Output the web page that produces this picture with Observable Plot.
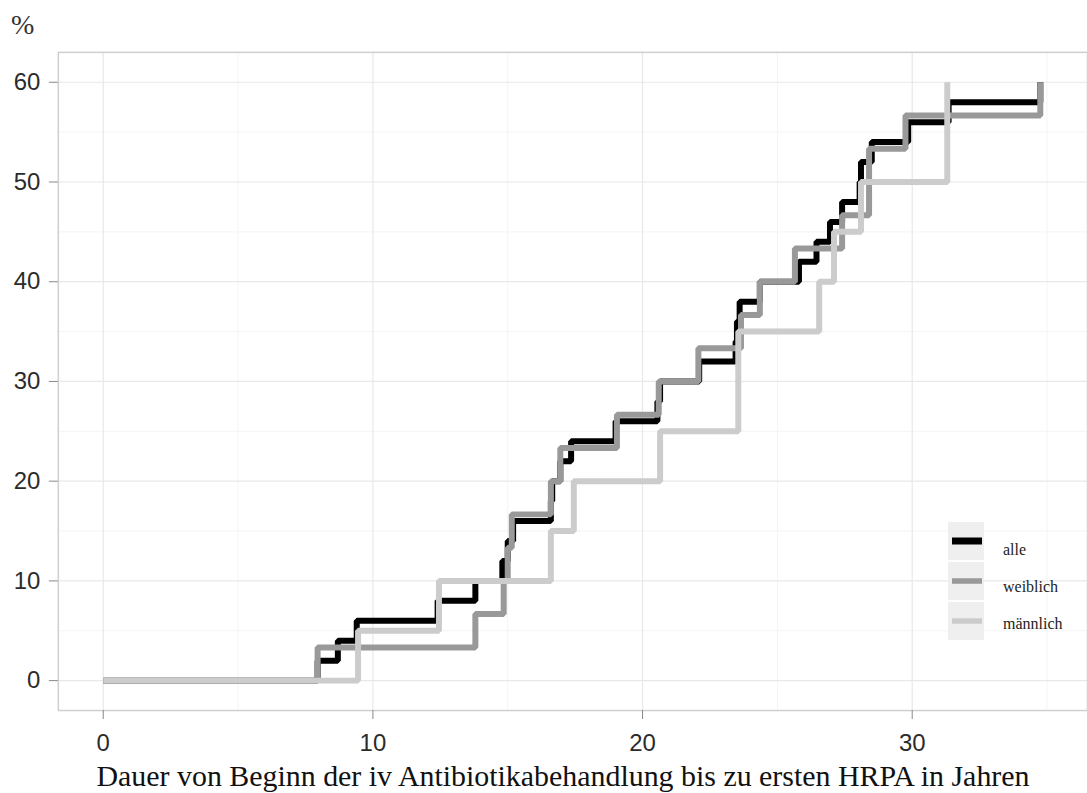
<!DOCTYPE html>
<html>
<head>
<meta charset="utf-8">
<script src="https://cdn.jsdelivr.net/npm/d3@7"></script>
<script src="https://cdn.jsdelivr.net/npm/@observablehq/plot@0.6"></script>
<style>
  html, body { margin: 0; padding: 0; background: #fff; overflow: hidden; }
  #wrap { position: relative; width: 1087px; height: 793px; overflow: hidden; }
  #wrap > svg { position: absolute; left: 0; top: 0; }
</style>
</head>
<body>
<div id="wrap"></div>
<script>
// Cumulative share (%) of patients with a first HRPA, by years since start of iv antibiotics
const seriesNames  = ["alle", "weiblich", "männlich"];
const seriesColors = ["#000000", "#999999", "#cccccc"];

const alleYears = [0, 7.95, 8.7, 9.4, 12.4, 13.8, 14.8, 15.0, 15.2, 16.6, 16.65, 16.95, 17.35, 19.0, 20.55, 20.65, 22.1, 23.45, 23.5, 23.6, 24.35, 25.8, 26.45, 26.95, 27.4, 28.05, 28.1, 28.5, 29.85, 31.35, 34.75];
const allePct   = [0, 2, 4, 6, 8, 10, 12, 14, 16, 18, 20, 22, 24, 26, 28, 30, 32, 34, 36, 38, 40, 42, 44, 46, 48, 50, 52, 54, 56, 58, 60];

const weiblichYears = [0, 7.95, 13.8, 14.85, 15.0, 15.15, 16.6, 16.95, 19.05, 20.6, 22.07, 23.65, 24.35, 25.65, 27.4, 28.4, 29.75, 34.75];
const weiblichPct   = [0, 3.33, 6.67, 10, 13.33, 16.67, 20, 23.33, 26.67, 30, 33.33, 36.67, 40, 43.33, 46.67, 53.33, 56.67, 60];

const maennlichYears = [0, 9.45, 12.45, 16.6, 17.45, 20.65, 23.55, 26.55, 27.1, 28.1, 31.3];
const maennlichPct   = [0, 5, 10, 15, 20, 25, 35, 40, 45, 50, 60];

const xTicks = [0, 10, 20, 30];
const xMinor = [5, 15, 25, 35];
const yTicks = [0, 10, 20, 30, 40, 50, 60];
const yMinor = [5, 15, 25, 35, 45, 55];

const xTitle = "Dauer von Beginn der iv Antibiotikabehandlung bis zu ersten HRPA in Jahren";
const yTitle = "%";

// long table: one row per step point
const seriesYears = [alleYears, weiblichYears, maennlichYears];
const seriesPct   = [allePct, weiblichPct, maennlichPct];
const rows = seriesNames.flatMap((name, i) =>
  seriesYears[i].map((t, j) => ({group: name, years: t, pct: seriesPct[i][j]}))
);

const W = 1090, H = 793;
const chart = Plot.plot({
  width: W,
  height: H,
  marginLeft: 58,
  marginRight: 0,
  marginTop: 52,
  marginBottom: 81,
  style: {background: "#ffffff", overflow: "visible"},
  x: {domain: [-1.665, 36.5]},
  y: {domain: [-3, 63]},
  color: {domain: seriesNames, range: seriesColors},
  marks: [
    Plot.gridX(xMinor, {stroke: "#f4f4f4", strokeOpacity: 1, strokeWidth: 1}),
    Plot.gridY(yMinor, {stroke: "#f4f4f4", strokeOpacity: 1, strokeWidth: 1}),
    Plot.gridX(xTicks, {stroke: "#e8e8e8", strokeOpacity: 1, strokeWidth: 1.2}),
    Plot.gridY(yTicks, {stroke: "#e8e8e8", strokeOpacity: 1, strokeWidth: 1.2}),
    Plot.line(rows, {
      x: "years", y: "pct", z: "group", stroke: "group",
      curve: "step-after", strokeWidth: 6,
      strokeLinejoin: "miter", strokeLinecap: "butt"
    }),
    Plot.frame({stroke: "#cfcfcf", strokeWidth: 1.5}),
    Plot.axisX(xTicks, {
      tickSize: 9, tickPadding: 15, fontSize: 24,
      stroke: "#888", fill: "#2b2b2b", label: null,
      fontFamily: "Liberation Sans, Arial, sans-serif"
    }),
    Plot.axisY(yTicks, {
      tickSize: 9, tickPadding: 9, fontSize: 24,
      stroke: "#888", fill: "#2b2b2b", label: null,
      fontFamily: "Liberation Sans, Arial, sans-serif"
    })
  ]
});
const wrap = document.getElementById("wrap");
wrap.appendChild(chart);

// titles and legend on an overlay layer
const ov = d3.select(wrap).append("svg")
  .attr("width", 1087).attr("height", 793)
  .style("font-family", "'Liberation Serif', 'Times New Roman', serif");

ov.append("text")
  .attr("x", 563).attr("y", 786)
  .attr("text-anchor", "middle")
  .attr("font-size", 29)
  .attr("fill", "#111")
  .attr("textLength", 933).attr("lengthAdjust", "spacingAndGlyphs")
  .text(xTitle);

ov.append("text")
  .attr("x", 11).attr("y", 34)
  .attr("font-size", 28)
  .attr("fill", "#333")
  .text(yTitle);

// legend
const lg = ov.append("g").attr("transform", "translate(948,522)");
const keyW = 36, keyH = 38, keyGap = 2;
const keyStroke = [7, 5.5, 5.5];
seriesNames.forEach((name, i) => {
  const y0 = i * (keyH + keyGap);
  lg.append("rect").attr("x", 0).attr("y", y0).attr("width", keyW).attr("height", keyH).attr("fill", "#efefef");
  lg.append("line")
    .attr("x1", 4).attr("x2", keyW - 2)
    .attr("y1", y0 + 19).attr("y2", y0 + 19)
    .attr("stroke", seriesColors[i]).attr("stroke-width", keyStroke[i]);
  lg.append("text")
    .attr("x", 55).attr("y", y0 + 33 - i * 3)
    .attr("font-size", 16).attr("fill", "#222")
    .text(name);
});
</script>
</body>
</html>
